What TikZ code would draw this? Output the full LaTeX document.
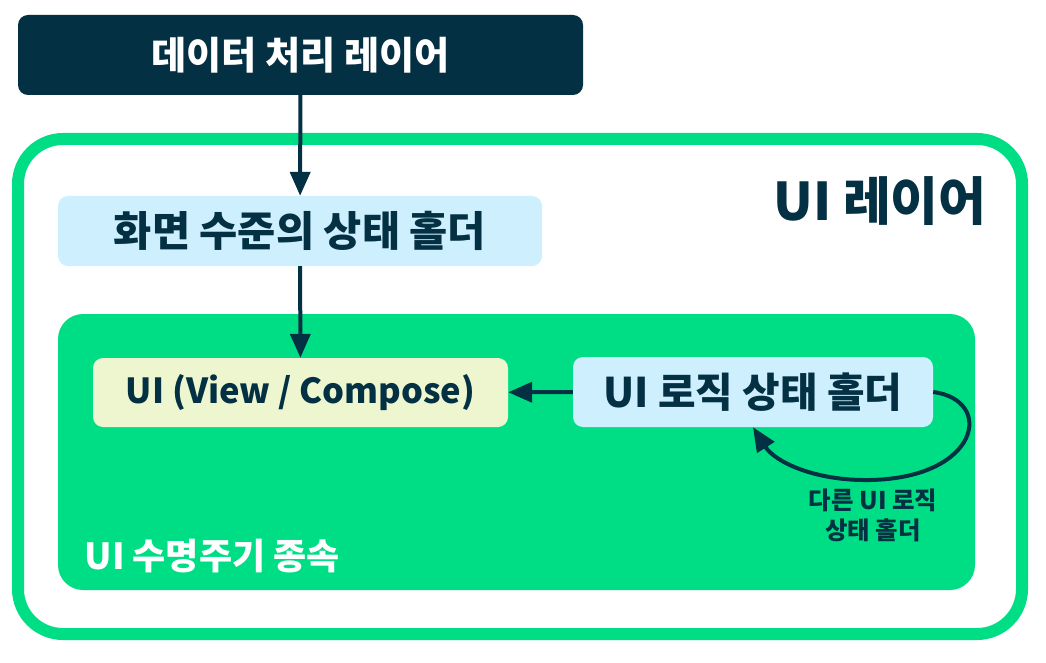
\documentclass[tikz,border=0pt]{standalone}
\usepackage{fontspec}
\setmainfont{Noto Sans CJK KR}
\usetikzlibrary{arrows.meta}
\definecolor{navy}{RGB}{3,48,66}
\definecolor{uigreen}{RGB}{0,222,133}
\definecolor{holderblue}{RGB}{205,239,254}
\definecolor{uiyellow}{RGB}{238,246,208}
\begin{document}
\begin{tikzpicture}[x=1pt,y=-1pt,
    box/.style={rounded corners=10pt,inner sep=0pt,font=\bfseries},
    arr/.style={-{Triangle[length=24pt,width=20pt]},line width=4pt,draw=navy}]
  \useasboundingbox (0,0) rectangle (1046,663);
  % UI layer frame
  \draw[line width=12pt,draw=uigreen,rounded corners=45pt] (18,139) rectangle (1022,634);
  \node[text=navy,font=\bfseries\fontsize{52}{62}\selectfont] (uilayer) at (880,201) {UI 레이어};
  % lifecycle area
  \fill[uigreen,rounded corners=25pt] (58,314) rectangle (975,590);
  \node[anchor=west,text=white,font=\bfseries\fontsize{36}{42}\selectfont] (life) at (81,556) {UI 수명주기 종속};
  % boxes
  \node[box,fill=navy,text=white,minimum width=565pt,minimum height=80pt,font=\bfseries\fontsize{38.2}{46}\selectfont] (data) at (300.5,55) {데이터 처리 레이어};
  \node[box,fill=holderblue,text=navy,minimum width=484pt,minimum height=70pt,font=\bfseries\fontsize{41.5}{48}\selectfont] (screen) at (300,231) {화면 수준의 상태 홀더};
  \node[box,fill=uiyellow,text=navy,minimum width=415pt,minimum height=69pt,font=\bfseries\fontsize{34.5}{40}\selectfont] (ui) at (300.5,392.5) {UI (View / Compose)};
  \node[box,fill=holderblue,text=navy,minimum width=360pt,minimum height=70pt,font=\bfseries\fontsize{40.8}{48}\selectfont] (logic) at (753,392) {UI 로직 상태 홀더};
  \node[text=navy,align=center,font=\bfseries\fontsize{24.4}{30}\selectfont] (other) at (873,515) {다른 UI 로직\\상태 홀더};
  % connectors
  \draw[arr] (data) -- (screen);
  \draw[arr] (screen) -- (ui);
  \draw[arr] (logic) -- (ui);
  \draw[arr] (logic.east) .. controls (995,400) and (980,478) .. (870,480)
    .. controls (815,481) and (775,462) .. (logic.south);
\end{tikzpicture}
\end{document}
